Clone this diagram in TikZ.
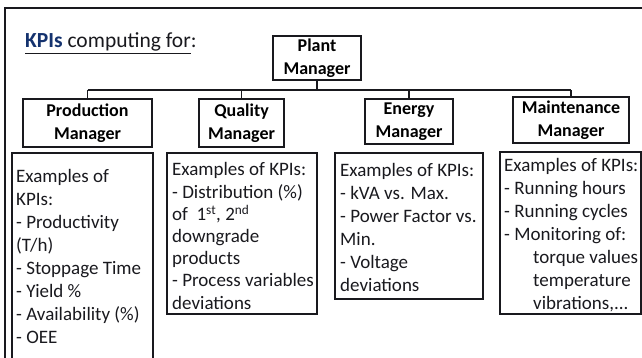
\documentclass[tikz,border=0pt]{standalone}
\usepackage{fontspec}
\setmainfont{Carlito}
\usetikzlibrary{positioning}
\definecolor{ink}{RGB}{25,25,30}
\definecolor{kpiblue}{RGB}{20,50,110}
\tikzset{
    manager/.style={
        draw=ink,
        line width=1.2pt,
        align=center,
        inner sep=0pt,
        font=\fontsize{18}{22.5}\selectfont\bfseries},
    kpiframe/.style={
        draw=ink,
        line width=1.1pt},
    kpilist/.style={
        anchor=north west,
        align=left,
        inner sep=0pt,
        text=ink,
        font=\fontsize{19}{23}\selectfont},
    link/.style={
        draw=ink,
        line width=1.2pt}}

\begin{document}
\begin{tikzpicture}[x=1pt,y=-1pt]
    \useasboundingbox (0,0) rectangle (642,358);
    \begin{scope}
        \clip (0,0) rectangle (642,358);
        \draw[ink, line width=1.2pt] (5,370) -- (5,8) -- (660,8);

        \node[anchor=base west, inner sep=0pt, text=ink, font=\fontsize{21.5}{24}\selectfont] (title) at (25,48)
            {\underline{\textcolor{kpiblue}{\textbf{KPIs}} computing for}:};

        \node[manager, minimum width=88, minimum height=44] (plant) at (317,58) {Plant\\Manager};
        \node[manager, minimum width=129, minimum height=48] (prod) at (87.5,123) {Production\\Manager};
        \node[manager, minimum width=85, minimum height=48] (qual) at (241.5,123) {Quality\\Manager};
        \node[manager, minimum width=88, minimum height=45] (energy) at (409,121.5) {Energy\\Manager};
        \node[manager, minimum width=116, minimum height=46] (maint) at (571,120) {Maintenance\\Manager};

        \coordinate (bus) at (0,90);
        \draw[link] (prod.north |- bus) -- (maint.north |- bus);
        \draw[link] (plant.south) -- (plant.south |- bus);
        \draw[link] (prod.north) -- (prod.north |- bus);
        \draw[link] (qual.north) -- (qual.north |- bus);
        \draw[link] (energy.north) -- (energy.north |- bus);
        \draw[link] (maint.north) -- (maint.north |- bus);

        \draw[kpiframe] (12,153) rectangle (153,370);
        \draw[kpiframe] (167,153) rectangle (317,314);
        \draw[kpiframe] (335,153) rectangle (483,299);
        \draw[kpiframe] (500,152) rectangle (641,314);

        \node[kpilist] (prodkpi) at (16,169.3) {Examples of\\KPIs:\\- Productivity\\(T/h)\\- Stoppage Time\\- Yield \%\\- Availability (\%)\\- OEE};
        \node[kpilist, font=\fontsize{19}{22.2}\selectfont] (qualkpi) at (172,162.5) {Examples of KPIs:\\- Distribution (\%)\\of~ 1\textsuperscript{st}, 2\textsuperscript{nd}\\downgrade\\products\\- Process variables\\deviations};
        \node[kpilist] (energykpi) at (340,163.3) {Examples of KPIs:\\- kVA vs. Max.\\- Power Factor vs.\\Min.\\- Voltage\\deviations};
        \node[kpilist] (maintkpi) at (504,158.3) {Examples of KPIs:\\- Running hours\\- Running cycles\\- Monitoring of:\\\hspace*{29pt}torque values\\\hspace*{29pt}temperature\\\hspace*{29pt}vibrations,...};
    \end{scope}
\end{tikzpicture}
\end{document}
